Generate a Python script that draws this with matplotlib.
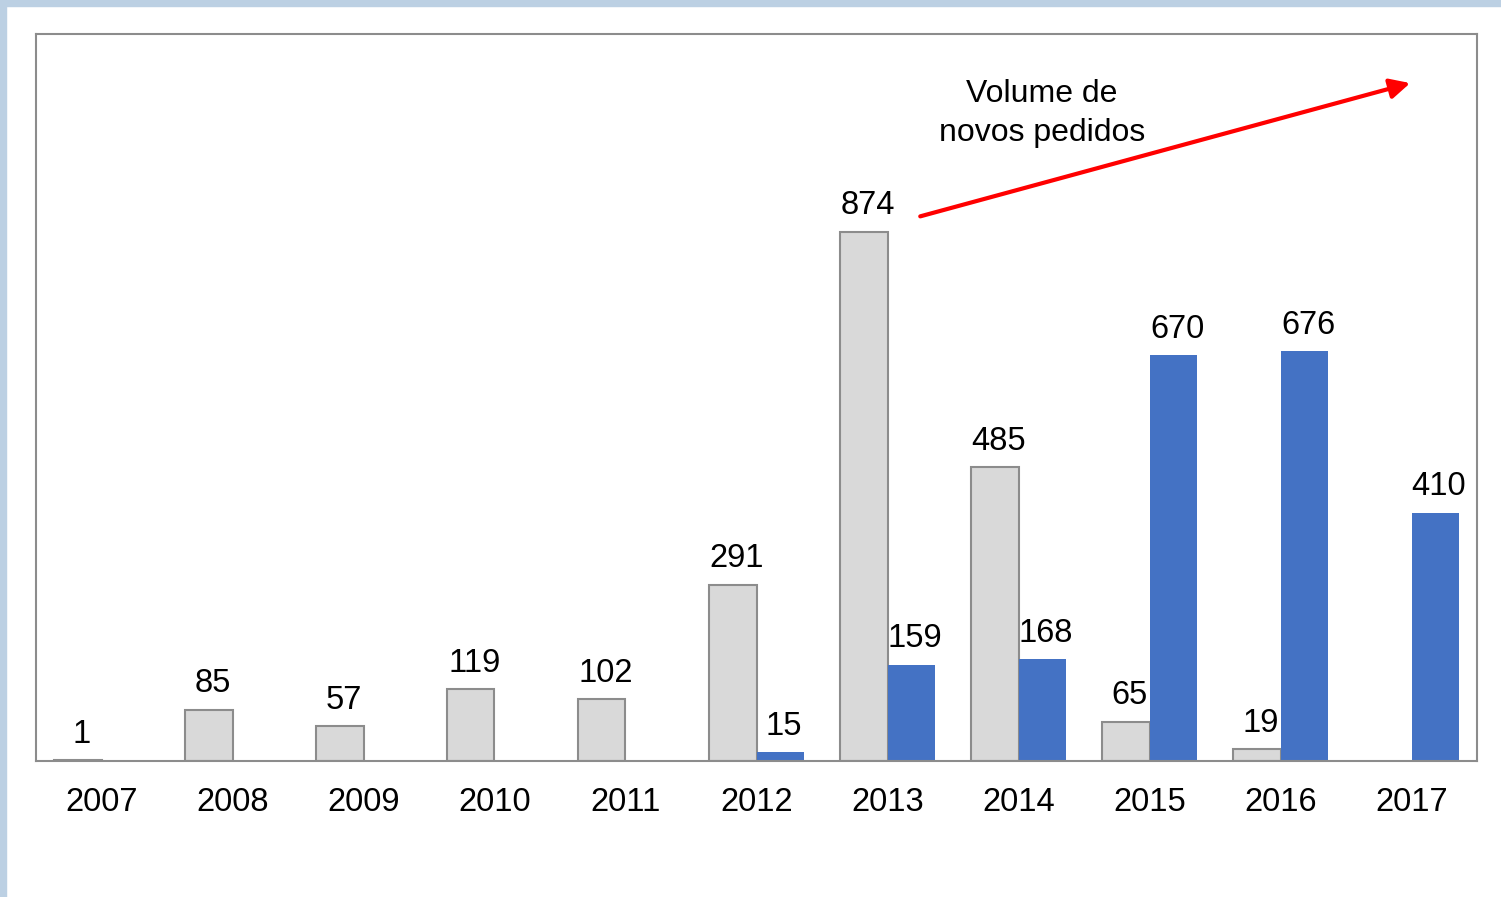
import matplotlib.pyplot as plt
import matplotlib.patches as mpatches
import numpy as np

plt.rcParams['font.family'] = ['Liberation Sans', 'DejaVu Sans']

years = ['2007', '2008', '2009', '2010', '2011', '2012', '2013', '2014', '2015', '2016', '2017']
gray_vals = [1, 85, 57, 119, 102, 291, 874, 485, 65, 19, None]
blue_vals = [None, None, None, None, None, 15, 159, 168, 670, 676, 410]

fig = plt.figure(figsize=(15.01, 8.97), dpi=100)
# light blue frame strips of the slide background
fig.patches.append(mpatches.Rectangle((0, 1 - 6 / 897), 1, 6 / 897, transform=fig.transFigure,
                                      color='#bcd0e3', zorder=0))
fig.patches.append(mpatches.Rectangle((0, 0), 6 / 1501, 1, transform=fig.transFigure,
                                      color='#bcd0e3', zorder=0))

ax = fig.add_axes([36 / 1501, 136 / 897, 1441 / 1501, 727 / 897])
x = np.arange(len(years))
w = 0.36

for i, v in enumerate(gray_vals):
    if v is None:
        continue
    ax.bar(x[i] - w / 2, v, w, color='#d9d9d9', edgecolor='#8c8c8c', linewidth=1.5, zorder=2)
    ax.text(x[i] - w / 2 + 0.03, v + 17, str(v), ha='center', va='bottom', fontsize=23.5)

for i, v in enumerate(blue_vals):
    if v is None:
        continue
    ax.bar(x[i] + w / 2, v, w, color='#4472c4', linewidth=0, zorder=2)
    ax.text(x[i] + w / 2 + 0.03, v + 17, str(v), ha='center', va='bottom', fontsize=23.5)

ax.set_xlim(-0.5, 10.5)
ax.set_ylim(0, 1200)
ax.set_xticks(x)
ax.set_xticklabels(years, fontsize=23.5)
ax.tick_params(axis='x', length=0, pad=19)
ax.set_yticks([])
for s in ax.spines.values():
    s.set_color('#8c8c8c')
    s.set_linewidth(1.5)

ax.annotate('', xy=(9.99, 1119), xytext=(6.25, 899),
            arrowprops=dict(arrowstyle='-|>', color='red', lw=3, mutation_scale=30,
                            shrinkA=0, shrinkB=0))
ax.text(7.18, 1069, 'Volume de\nnovos pedidos', ha='center', va='center', fontsize=23,
        linespacing=1.38)

fig.savefig('out.png', dpi=100)
